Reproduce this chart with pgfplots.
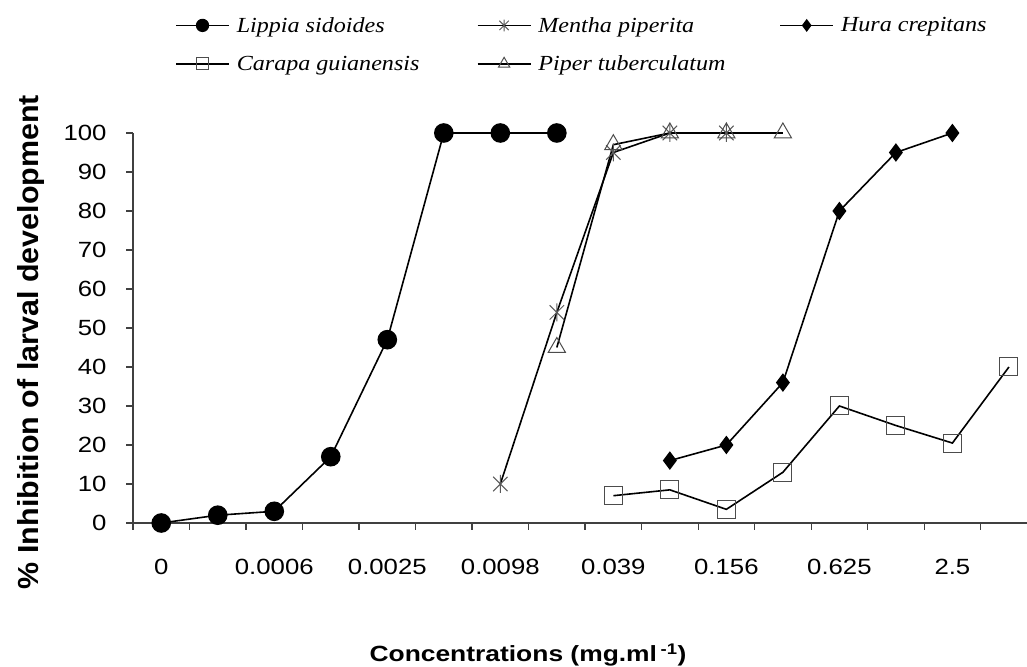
\documentclass[border=0pt]{standalone}
\usepackage{fontspec}
\setmainfont{Liberation Sans}
\newfontfamily\tickfont{Liberation Sans}[FakeStretch=1.17]
\newfontfamily\xlabfont{Liberation Sans}[FakeStretch=1.2]
\newfontfamily\ylabfont{Liberation Sans}[FakeStretch=1.05]
\newfontfamily\legfont{Liberation Serif}[FakeStretch=1.12]
\usepackage{pgfplots}
\pgfplotsset{compat=1.18}
\pgfdeclareplotmark{xstar}{%
  \pgfpathmoveto{\pgfqpoint{0pt}{\pgfplotmarksize}}%
  \pgfpathlineto{\pgfqpoint{0pt}{-\pgfplotmarksize}}%
  \pgfpathmoveto{\pgfqpoint{0.8\pgfplotmarksize}{0.8\pgfplotmarksize}}%
  \pgfpathlineto{\pgfqpoint{-0.8\pgfplotmarksize}{-0.8\pgfplotmarksize}}%
  \pgfpathmoveto{\pgfqpoint{-0.8\pgfplotmarksize}{0.8\pgfplotmarksize}}%
  \pgfpathlineto{\pgfqpoint{0.8\pgfplotmarksize}{-0.8\pgfplotmarksize}}%
  \pgfusepathqstroke}
\begin{document}
\begin{tikzpicture}[x=1pt,y=1pt]
\useasboundingbox (0,0) rectangle (1027,666);
\begin{axis}[
  at={(133pt,143pt)}, anchor=south west,
  scale only axis, width=894pt, height=390pt,
  xmin=-0.5, xmax=15.32, ymin=0, ymax=100,
  axis x line=bottom, axis y line=left,
  axis line style={-, line width=1.3pt, black!75},
  clip=false,
  xtick={-0.5,0.5,...,14.5},
  xticklabels={},
  extra x ticks={0,2,...,14},
  extra x tick labels={0,0.0006,0.0025,0.0098,0.039,0.156,0.625,2.5},
  extra x tick style={tick style={draw=none}},
  ytick={0,10,...,100},
  tick align=outside,
  tick style={line width=1.2pt, black!75},
  major tick length=7pt,
  /pgf/number format/assume math mode=true,
  ticklabel style={font=\tickfont\fontsize{22}{24}\selectfont},
  yticklabel style={anchor=east, xshift=-16pt},
  xticklabel style={anchor=north, yshift=-26pt},
  legend columns=3,
  legend cell align=left,
  legend style={at={(axis description cs:0.047,1.2974)}, anchor=north west,
    draw=none, fill=none, inner sep=0pt, row sep=22pt,
    font=\legfont\itshape\fontsize{21.5}{23}\selectfont,
    nodes={inner sep=0pt},
    /tikz/every even column/.append style={column sep=0pt}},
  legend image code/.code={\draw[mark repeat=2,mark phase=2,#1] plot coordinates {(0pt,0pt) (26.5pt,0pt) (53pt,0pt)};},
  legend image post style={every mark/.append style={scale=0.65}},
]
\addplot[black, line width=1.6pt, mark=*, mark size=9pt] coordinates {
  (0,0) (1,2) (2,3) (3,17) (4,47) (5,100) (6,100) (7,100)};
\addlegendentry{\makebox[247pt][l]{\hspace{7pt}Lippia sidoides}}
\addplot[black, line width=1.6pt, mark=xstar, mark size=9pt, mark options={draw=black!65, line width=1pt}] coordinates {
  (6,10) (7,54) (8,95) (9,100) (10,100)};
\addlegendentry{\makebox[248pt][l]{\hspace{7pt}Mentha piperita}}
\addplot[black, line width=1.6pt, mark=diamond*, mark size=8pt] coordinates {
  (9,16) (10,20) (11,36) (12,80) (13,95) (14,100)};
\addlegendentry{\hspace{7pt}Hura crepitans}
\addplot[black, line width=1.6pt, mark=square, mark size=9pt, mark options={draw=black!70, line width=1pt}] coordinates {
  (8,7) (9,8.5) (10,3.5) (11,13) (12,30) (13,25) (14,20.5) (15,40)};
\addlegendentry{\makebox[247pt][l]{\hspace{7pt}Carapa guianensis}}
\addplot[black, line width=1.6pt, mark=triangle, mark size=10pt, mark options={draw=black!70, line width=1pt}] coordinates {
  (7,45) (8,97) (9,100) (10,100) (11,100)};
\addlegendentry{\makebox[248pt][l]{\hspace{7pt}Piper tuberculatum}}
\end{axis}
\node[rotate=90, font=\ylabfont\bfseries\fontsize{29}{30}\selectfont] at (31,324) {\% Inhibition of larval development};
\node[font=\xlabfont\bfseries\fontsize{22}{24}\selectfont] at (528,11) {Concentrations (mg.ml\,\textsuperscript{-1})};
\end{tikzpicture}
\end{document}
